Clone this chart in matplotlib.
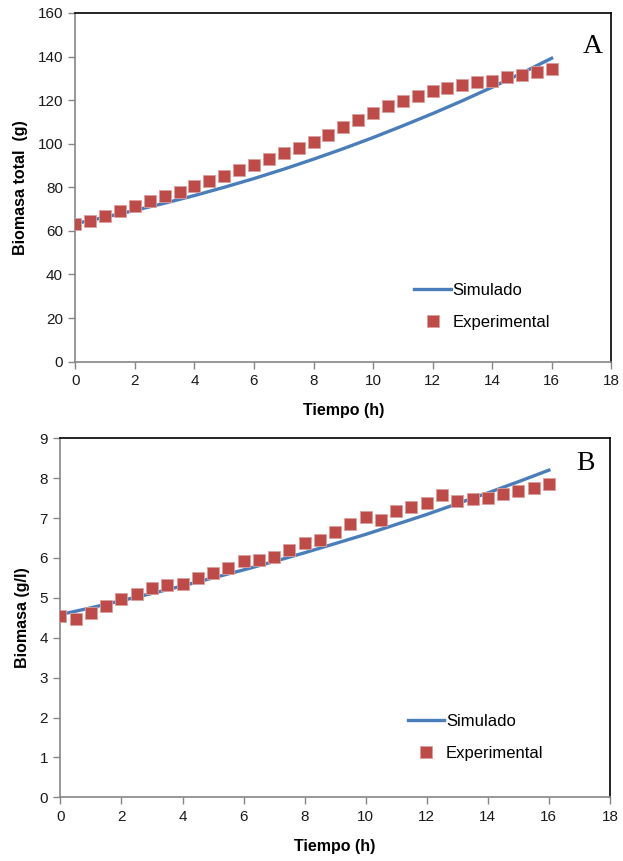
import matplotlib
matplotlib.use("Agg")
import matplotlib.pyplot as plt
import numpy as np

plt.rcParams['font.family'] = ['Liberation Sans', 'DejaVu Sans']

# ---- data ----
t_exp = [0, 0.5, 1, 1.5, 2, 2.5, 3, 3.5, 4, 4.5, 5, 5.5, 6, 6.5, 7, 7.5, 8,
         8.5, 9, 9.5, 10, 10.5, 11, 11.5, 12, 12.5, 13, 13.5, 14, 14.5, 15, 15.5, 16]
biomasa_total_exp = [63.0, 64.7, 66.8, 69.0, 71.2, 73.5, 75.8, 78.0, 80.6, 83.0, 85.3,
                     87.8, 90.2, 92.8, 95.5, 98.1, 100.9, 104.2, 107.7, 111.0, 114.1,
                     117.4, 119.7, 122.0, 124.0, 125.7, 126.8, 128.2, 128.9, 130.4,
                     131.4, 132.8, 134.4]
t_sim = [0, 1, 2, 3, 4, 5, 6, 7, 8, 9, 10, 11, 12, 13, 14, 15, 16]
biomasa_total_sim = [63.3, 66.3, 69.4, 72.7, 76.2, 80.0, 84.0, 88.3, 92.9, 97.7,
                     102.8, 108.2, 113.8, 119.7, 125.9, 132.4, 139.2]

biomasa_exp = [4.55, 4.48, 4.63, 4.80, 4.96, 5.09, 5.25, 5.33, 5.35, 5.50, 5.62,
               5.76, 5.93, 5.94, 6.03, 6.20, 6.38, 6.45, 6.65, 6.84, 7.03, 6.96,
               7.18, 7.28, 7.38, 7.57, 7.42, 7.47, 7.49, 7.59, 7.67, 7.75, 7.85]
biomasa_sim = [4.58, 4.75, 4.93, 5.11, 5.30, 5.50, 5.70, 5.91, 6.13, 6.36, 6.59,
               6.84, 7.09, 7.36, 7.63, 7.91, 8.20]

x_ticks = [0, 2, 4, 6, 8, 10, 12, 14, 16, 18]
y_ticks_top = [0, 20, 40, 60, 80, 100, 120, 140, 160]
y_ticks_bot = [0, 1, 2, 3, 4, 5, 6, 7, 8, 9]

BLUE = '#4A7EBB'
RED = '#BE4B48'
GRAY = '#868686'

fig = plt.figure(figsize=(6.23, 8.61), dpi=100)
ax1 = fig.add_axes([0.121, 0.580, 0.860, 0.405])
ax2 = fig.add_axes([0.097, 0.074, 0.882, 0.417])


def style(ax, yticks, ylabel, letter, ylim, lx, ly):
    ax.set_xlim(0, 18)
    ax.set_ylim(*ylim)
    ax.set_xticks(x_ticks)
    ax.set_yticks(yticks)
    ax.tick_params(axis='both', direction='out', length=5, width=1,
                   color=GRAY, labelsize=11, labelcolor='#1a1a1a', pad=4)
    ax.spines['left'].set_color(GRAY)
    ax.spines['bottom'].set_color(GRAY)
    ax.spines['top'].set_color('black')
    ax.spines['right'].set_color('black')
    for s in ax.spines.values():
        s.set_linewidth(1.2)
    ax.set_xlabel('Tiempo (h)', fontsize=11.5, fontweight='bold', labelpad=11)
    ax.set_ylabel(ylabel, fontsize=11.5, fontweight='bold', labelpad=7)
    ax.text(lx, ly, letter, transform=ax.transAxes, ha='right', va='center',
            fontsize=20, family=['Liberation Serif', 'DejaVu Serif'])


ax1.plot(t_sim, biomasa_total_sim, color=BLUE, lw=2.4, label='Simulado', zorder=2)
ax1.plot(t_exp, biomasa_total_exp, ls='none', marker='s', ms=8.8, color=RED,
         markeredgecolor='#D9A09E', markeredgewidth=0.6, label='Experimental', zorder=3)
style(ax1, y_ticks_top, 'Biomasa total  (g)', 'A', (0, 160), 0.985, 0.905)
ax1.legend(loc='upper left', bbox_to_anchor=(0.62, 0.245), frameon=False,
           fontsize=12, handlelength=2.2, handletextpad=0.1, labelspacing=1.0,
           borderaxespad=0)

ax2.plot(t_sim, biomasa_sim, color=BLUE, lw=2.4, label='Simulado', zorder=2)
ax2.plot(t_exp, biomasa_exp, ls='none', marker='s', ms=8.8, color=RED,
         markeredgecolor='#D9A09E', markeredgewidth=0.6, label='Experimental', zorder=3)
style(ax2, y_ticks_bot, 'Biomasa (g/l)', 'B', (0, 9), 0.972, 0.93)
ax2.legend(loc='upper left', bbox_to_anchor=(0.62, 0.25), frameon=False,
           fontsize=12, handlelength=2.2, handletextpad=0.1, labelspacing=1.0,
           borderaxespad=0)

fig.savefig('out.png', dpi=100)
